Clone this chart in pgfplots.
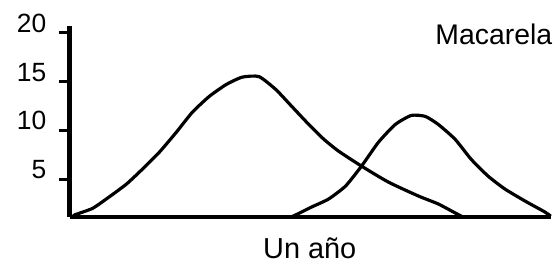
\documentclass[border=0pt]{standalone}
\usepackage{pgfplots}
\pgfplotsset{compat=1.18}
\usepackage{fontspec}
\setmainfont{Liberation Sans}
\begin{document}
\begin{tikzpicture}
\begin{axis}[
  name=ax,
  scale only axis,
  width=483pt, height=192pt,
  xmin=0, xmax=483,
  ymin=1.1, ymax=20.71,
  axis lines=left,
  axis line style={line width=4.5pt, -},
  xtick=\empty,
  ytick={5,10,15,20},
  tick align=outside,
  major tick length=11pt,
  tick style={line width=3pt, black},
  /pgf/number format/assume math mode=true,
  yticklabel style={font=\fontsize{26.5}{29}\selectfont, yshift=9.5pt, xshift=-9pt},
  clip=false,
]
\addplot[black, line width=3.2pt, smooth, tension=0.35] coordinates {
(3,1.1) (5,1.33) (23,2.0) (40,3.2) (57,4.49) (73,6.02) (90,7.76) (107,9.80) (123,11.84) (140,13.47) (157,14.69) (173,15.45) (190,15.51) (207,14.18) (223,12.45) (240,10.61) (255,9.1) (270,7.86) (293,6.33) (320,4.69) (350,3.27) (370,2.45) (387,1.53) (395,1.1)
};
\addplot[black, line width=3.2pt, smooth, tension=0.35] coordinates {
(222,1.1) (227,1.33) (243,2.14) (260,2.96) (277,4.29) (293,6.33) (310,8.78) (327,10.61) (343,11.53) (357,11.43) (370,10.61) (387,9.08) (403,7.04) (420,5.31) (437,3.98) (457,2.76) (477,1.63) (483,1.2)
};
\node[anchor=base west, font=\fontsize{28.5}{30}\selectfont, inner sep=0pt] at (axis cs:367,18.78) {Macarela};
\node[anchor=base, font=\fontsize{29}{31}\selectfont, inner sep=0pt] at (axis cs:241,-3.1) {Un año};
\end{axis}
\useasboundingbox ([xshift=-70pt,yshift=-48pt]ax.south west) rectangle ([yshift=26pt]ax.north east);
\end{tikzpicture}
\end{document}
